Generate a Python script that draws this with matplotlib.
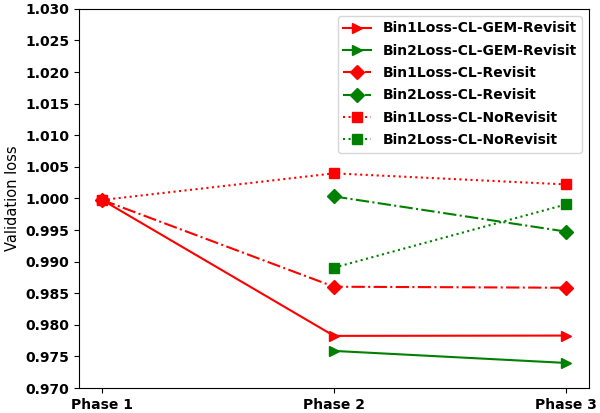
import numpy as np
import matplotlib
matplotlib.use("Agg")
import matplotlib.pyplot as plt

phases = ["Phase 1", "Phase 2", "Phase 3"]

bin1_gem = [0.99976, 0.97825, 0.97830]
bin2_gem = [None, 0.97587, 0.97397]
bin1_rev = [0.99976, 0.98603, 0.98587]
bin2_rev = [None, 1.00032, 0.99476]
bin1_norev = [0.99976, 1.00397, 1.00222]
bin2_norev = [None, 0.98905, 0.99905]

def to_arr(v):
    return np.array([np.nan if x is None else x for x in v])

x = np.arange(len(phases))

fig = plt.figure(figsize=(6, 4.13), dpi=100)
ax = fig.add_axes([0.1317, 0.0605, 0.85, 0.918])

ax.plot(x, to_arr(bin1_gem), color="red", linestyle="-", marker=">", markersize=7, label="Bin1Loss-CL-GEM-Revisit")
ax.plot(x, to_arr(bin2_gem), color="green", linestyle="-", marker=">", markersize=7, label="Bin2Loss-CL-GEM-Revisit")
ax.plot(x, to_arr(bin1_rev), color="red", linestyle="-.", marker="D", markersize=7, label="Bin1Loss-CL-Revisit")
ax.plot(x, to_arr(bin2_rev), color="green", linestyle="-.", marker="D", markersize=7, label="Bin2Loss-CL-Revisit")
ax.plot(x, to_arr(bin1_norev), color="red", linestyle=":", marker="s", markersize=7, label="Bin1Loss-CL-NoRevisit")
ax.plot(x, to_arr(bin2_norev), color="green", linestyle=":", marker="s", markersize=7, label="Bin2Loss-CL-NoRevisit")

ax.set_ylim(0.970, 1.030)
ax.set_yticks(np.arange(0.970, 1.0301, 0.005))
ax.set_yticklabels(["%.3f" % v for v in np.arange(0.970, 1.0301, 0.005)], fontweight="bold")
ax.set_xticks(x)
ax.set_xticklabels(phases, fontweight="bold")
ax.set_ylabel("Validation loss", fontsize=10.5)

ax.legend(loc="upper right", prop={"weight": "bold", "size": 10}, labelspacing=0.6)

fig.savefig("out.png", dpi=100)
